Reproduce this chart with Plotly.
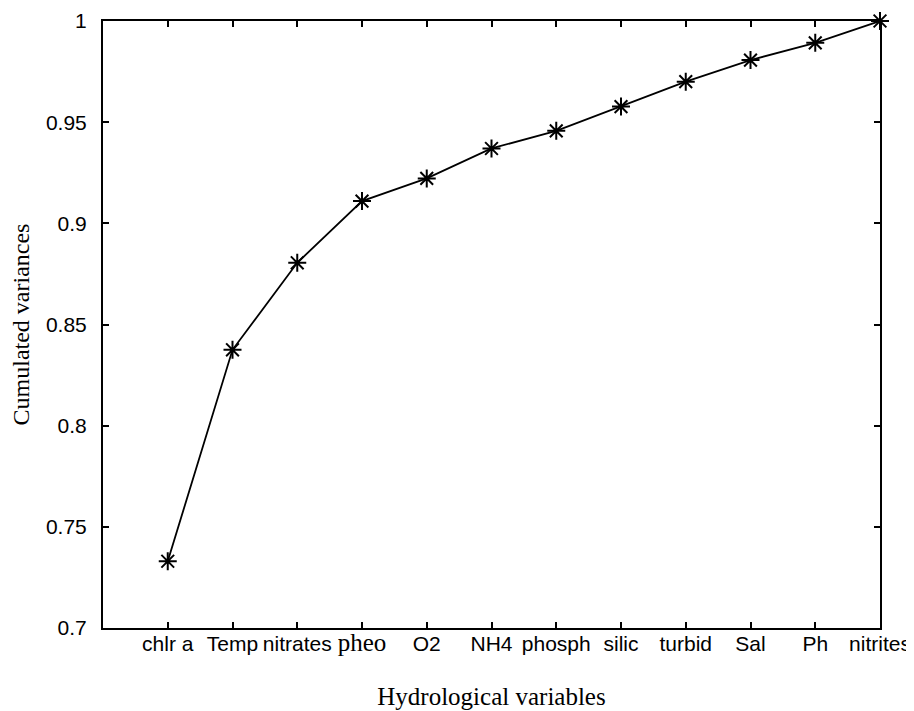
import plotly.graph_objects as go

variables = ["chlr a", "Temp", "nitrates", "pheo", "O2", "NH4", "phosph",
             "silic", "turbid", "Sal", "Ph", "nitrites"]
positions = list(range(1, len(variables) + 1))
cumulated = [0.733, 0.8375, 0.8805, 0.911, 0.9222, 0.937, 0.9457,
             0.9577, 0.970, 0.9807, 0.9892, 1.0]
y_ticks = [0.7, 0.75, 0.8, 0.85, 0.9, 0.95, 1.0]
y_ticktext = ["0.7", "0.75", "0.8", "0.85", "0.9", "0.95", "1"]

serif = "Liberation Serif, Times New Roman, serif"
sans = "Liberation Sans, Arial, sans-serif"

ticktext = [
    f"<span style='font-family:{serif}; font-size:25px'>{v}</span>" if v == "pheo" else v
    for v in variables
]

fig = go.Figure()
fig.add_trace(go.Scatter(
    x=positions, y=cumulated, mode="lines+markers",
    line=dict(color="black", width=1.8),
    marker=dict(symbol="asterisk-open", size=15, color="black",
                line=dict(color="black", width=2)),
    showlegend=False, cliponaxis=False,
))

axis_common = dict(
    showline=True, linecolor="black", linewidth=2, mirror="ticks",
    ticks="inside", ticklen=6, tickwidth=2, tickcolor="black",
    showgrid=False, zeroline=False, automargin=False,
    ticklabeloverflow="allow",
    tickfont=dict(family=sans, size=21, color="black"),
)

fig.update_layout(
    width=914, height=711,
    margin=dict(l=95, r=42, t=13, b=91),
    paper_bgcolor="white", plot_bgcolor="white",
    xaxis=dict(range=[0, 12], tickvals=positions, ticktext=ticktext,
               ticklabelstandoff=-4,
               title=dict(text="Hydrological variables",
                          font=dict(family=serif, size=25, color="black"),
                          standoff=32),
               **axis_common),
    yaxis=dict(range=[0.7, 1.0], tickvals=y_ticks, ticktext=y_ticktext,
               ticklabelstandoff=10,
               title=dict(text="Cumulated variances",
                          font=dict(family=serif, size=24, color="black"),
                          standoff=14),
               **axis_common),
)

fig.write_html("out.html")
